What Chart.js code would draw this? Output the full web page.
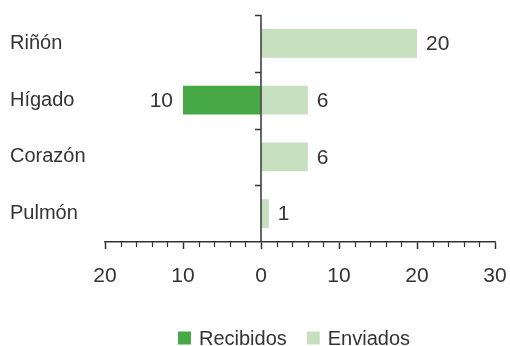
<!DOCTYPE html>
<html>
<head>
<meta charset="utf-8">
<script src="https://cdn.jsdelivr.net/npm/chart.js@4/dist/chart.umd.min.js"></script>
<style>
  html, body { margin: 0; padding: 0; background: #ffffff; }
  #wrap { width: 510px; height: 346px; }
</style>
</head>
<body>
<div id="wrap"><canvas id="c" width="510" height="346"></canvas></div>
<script>
const categories = ['Riñón', 'Hígado', 'Corazón', 'Pulmón'];
const recibidos = [null, -10, null, null];
const enviados = [20, 6, 6, 1];
const seriesNames = ['Recibidos', 'Enviados'];
const seriesColors = ['#46a946', '#c6e0bf'];
const xMin = -20, xMax = 30, majorStep = 10, minorStep = 2;

const FONT = '"Liberation Sans", Arial, Helvetica, sans-serif';
const TEXT = '#333333';
const AXIS = '#333333';

const overlay = {
  id: 'overlay',
  afterDatasetsDraw(chart) {
    const ctx = chart.ctx;
    const xs = chart.scales.x, ys = chart.scales.y;
    const ca = chart.chartArea;
    const x0 = xs.getPixelForValue(0);
    ctx.save();
    // vertical axis at zero
    ctx.strokeStyle = AXIS;
    ctx.lineWidth = 1.5;
    ctx.beginPath();
    ctx.moveTo(x0, ca.top);
    ctx.lineTo(x0, ca.bottom);
    ctx.stroke();
    // category boundary ticks
    for (let i = 0; i < categories.length; i++) {
      const y = Math.round(ys.getPixelForValue(i - 0.5)) + 0.5;
      ctx.beginPath();
      ctx.moveTo(x0 - 6, y);
      ctx.lineTo(x0, y);
      ctx.stroke();
    }
    // minor x ticks
    ctx.lineWidth = 1.2;
    for (let v = xMin; v <= xMax; v += minorStep) {
      if (v % majorStep === 0) continue;
      const x = Math.round(xs.getPixelForValue(v)) + 0.5;
      ctx.beginPath();
      ctx.moveTo(x, ca.bottom);
      ctx.lineTo(x, ca.bottom + 5);
      ctx.stroke();
    }
    // data labels
    ctx.fillStyle = TEXT;
    ctx.font = '21px ' + FONT;
    ctx.textBaseline = 'middle';
    chart.data.datasets.forEach((ds, di) => {
      const meta = chart.getDatasetMeta(di);
      meta.data.forEach((bar, i) => {
        const v = ds.data[i];
        if (v === null || v === undefined) return;
        if (v >= 0) {
          ctx.textAlign = 'left';
          ctx.fillText(String(Math.abs(v)), bar.x + 9, bar.y + 1);
        } else {
          ctx.textAlign = 'right';
          ctx.fillText(String(Math.abs(v)), bar.x - 10, bar.y + 1);
        }
      });
    });
    // legend
    ctx.font = '20px ' + FONT;
    const box = 13, gap = 8, spacing = 20;
    const widths = seriesNames.map(n => ctx.measureText(n).width);
    let total = 0;
    widths.forEach((w, i) => { total += box + gap + w + (i < widths.length - 1 ? spacing : 0); });
    let lx = (ca.left + ca.right) / 2 - 6 - total / 2;
    const ly = 338;
    ctx.textAlign = 'left';
    seriesNames.forEach((n, i) => {
      ctx.fillStyle = seriesColors[i];
      ctx.fillRect(lx, ly - box / 2, box, box);
      lx += box + gap;
      ctx.fillStyle = TEXT;
      ctx.fillText(n, lx, ly + 1);
      lx += widths[i] + spacing;
    });
    ctx.restore();
  }
};

new Chart(document.getElementById('c'), {
  type: 'bar',
  data: {
    labels: categories,
    datasets: [
      { label: seriesNames[0], data: recibidos, backgroundColor: seriesColors[0], borderWidth: 0, categoryPercentage: 1, barPercentage: 0.51 },
      { label: seriesNames[1], data: enviados, backgroundColor: seriesColors[1], borderWidth: 0, categoryPercentage: 1, barPercentage: 0.51 }
    ]
  },
  options: {
    indexAxis: 'y',
    responsive: false,
    animation: false,
    devicePixelRatio: 1,
    layout: { padding: { left: 10, right: 15, top: 14, bottom: 44 } },
    plugins: { legend: { display: false }, tooltip: { enabled: false } },
    scales: {
      x: {
        stacked: true,
        min: xMin, max: xMax,
        ticks: {
          stepSize: majorStep,
          callback: v => String(Math.abs(v)),
          font: { family: FONT, size: 21 },
          color: TEXT,
          padding: 15,
          maxRotation: 0
        },
        grid: { drawOnChartArea: false, drawTicks: true, tickLength: 7, tickColor: AXIS, tickWidth: 1.5 },
        border: { display: true, color: AXIS, width: 1.5 },
        afterFit(s) { s.height = 60; s.paddingLeft = 0; s.paddingRight = 0; }
      },
      y: {
        stacked: true,
        ticks: { crossAlign: 'far', font: { family: FONT, size: 20 }, color: TEXT },
        grid: { display: false },
        border: { display: false },
        afterFit(s) { s.width = 95; }
      }
    }
  },
  plugins: [overlay]
});
</script>
</body>
</html>
